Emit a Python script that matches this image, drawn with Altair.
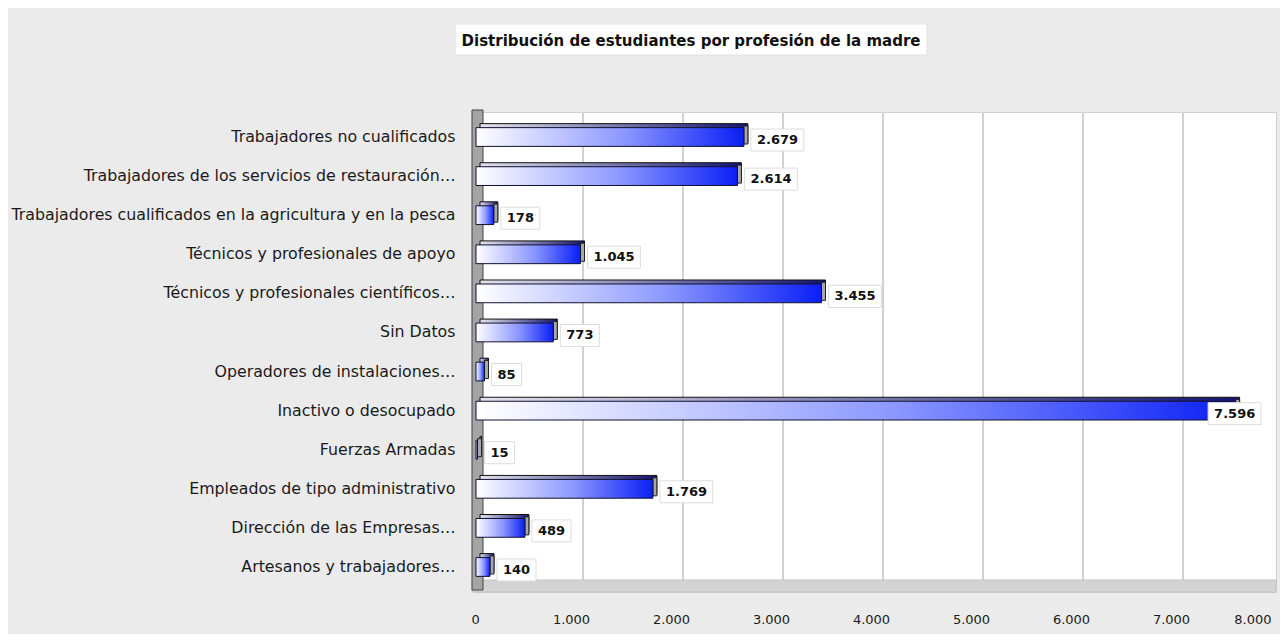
import altair as alt
import pandas as pd

categories = [
    "Trabajadores no cualificados",
    "Trabajadores de los servicios de restauración…",
    "Trabajadores cualificados en la agricultura y en la pesca",
    "Técnicos y profesionales de apoyo",
    "Técnicos y profesionales científicos…",
    "Sin Datos",
    "Operadores de instalaciones…",
    "Inactivo o desocupado",
    "Fuerzas Armadas",
    "Empleados de tipo administrativo",
    "Dirección de las Empresas…",
    "Artesanos y trabajadores…",
]
values = [2679, 2614, 178, 1045, 3455, 773, 85, 7596, 15, 1769, 489, 140]
x_ticks = [0, 1000, 2000, 3000, 4000, 5000, 6000, 7000, 8000]
grid_ticks = [1000, 2000, 3000, 4000, 5000, 6000, 7000]
title_text = "Distribución de estudiantes por profesión de la madre"

df = pd.DataFrame({"categoria": categories, "valor": values})
grid_df = pd.DataFrame({"t": grid_ticks})

W, H = 800, 480
FLOOR = 12
XMAX = 8000
PX = W / XMAX
LABEL_LIMIT = 7850
FONT = "DejaVu Sans"

x_scale = alt.Scale(domain=[0, XMAX], nice=False, zero=True)
x_axis = alt.Axis(
    values=x_ticks, title=None, ticks=False, domain=False, grid=False,
    labelExpr="replace(format(datum.value, ','), ',', '.')",
    labelFontSize=13, labelColor="#1a1a1a", labelPadding=21, labelFont=FONT,
    labelOffset=-5,
)
y_scale = alt.Scale(domain=categories, paddingInner=0.52, paddingOuter=0.4)
y_axis = alt.Axis(
    title=None, ticks=False, domain=False, labelFontSize=15.8, labelColor="#1a1a1a",
    labelPadding=21, labelLimit=1000, labelFont=FONT,
)
y_enc = alt.Y("categoria:N", scale=y_scale, axis=y_axis, sort=categories)

front_grad = alt.Gradient(
    gradient="linear",
    stops=[alt.GradientStop(color="#ffffff", offset=0),
           alt.GradientStop(color="#8c98ff", offset=0.55),
           alt.GradientStop(color="#0a1ff5", offset=1)],
    x1=0, x2=1, y1=0, y2=0,
)
back_grad = alt.Gradient(
    gradient="linear",
    stops=[alt.GradientStop(color="#e4e4ee", offset=0),
           alt.GradientStop(color="#141470", offset=1)],
    x1=0, x2=1, y1=0, y2=0,
)

base = alt.Chart(df).transform_calculate(
    label="replace(format(datum.valor, ','), ',', '.')"
).transform_calculate(
    ndots="length(datum.label) - length(replace(datum.label, '.', ''))"
).transform_calculate(
    boxw="(length(datum.label) - datum.ndots) * 9.0 + datum.ndots * 4.9 + 12"
).transform_calculate(
    x_lo0=f"datum.valor + 7 / {PX}",
    x_hi0=f"datum.valor + (7 + datum.boxw) / {PX}",
).transform_calculate(
    shift=f"max(0, datum.x_hi0 - {LABEL_LIMIT})"
).transform_calculate(
    x_lo="datum.x_lo0 - datum.shift",
    x_hi="datum.x_hi0 - datum.shift",
)

x_enc = alt.X("valor:Q", scale=x_scale, axis=x_axis)

grid = alt.Chart(grid_df).mark_rule(color="#d2d2d2", strokeWidth=2, xOffset=7).encode(
    x=alt.X("t:Q", scale=x_scale, axis=x_axis),
    y=alt.value(0), y2=alt.value(H - FLOOR),
)

one = alt.Data(values=[{"k": 1}])

wall = alt.Chart(one).mark_rect(fill="#a4a4a4", stroke="#444444", strokeWidth=1).encode(
    x=alt.value(-4), x2=alt.value(7), y=alt.value(-2), y2=alt.value(H - 2)
)
floor = alt.Chart(one).mark_rect(fill="#d4d4d4", stroke="#c2c2c2", strokeWidth=1).encode(
    x=alt.value(-4), x2=alt.value(W), y=alt.value(H - FLOOR), y2=alt.value(H)
)

back = base.mark_bar(
    fill=back_grad, stroke="#111111", strokeWidth=1,
    xOffset=4, x2Offset=4, yOffset=-4, y2Offset=-4,
).encode(x=x_enc, y=y_enc)

cap = base.mark_bar(
    fill="#a8a8a8", stroke="#222222", strokeWidth=1, size=18, yOffset=-2, y2Offset=-2,
    x2Offset=4,
).encode(x=x_enc, x2="valor:Q", y=y_enc)

front = base.mark_bar(
    fill=front_grad, stroke="#111133", strokeWidth=1,
).encode(x=x_enc, y=y_enc)

boxes = base.mark_bar(
    fill="white", stroke="#dddddd", strokeWidth=1, size=22, yOffset=3, y2Offset=3,
).encode(
    x=alt.X("x_lo:Q", scale=x_scale, axis=x_axis),
    x2="x_hi:Q",
    y=y_enc,
)

texts = base.mark_text(
    align="left", baseline="middle", dx=6, dy=3, fontSize=13, fontWeight="bold",
    font=FONT, color="#111111",
).encode(x=alt.X("x_lo:Q", scale=x_scale, axis=x_axis), y=y_enc, text="label:N")

title_box = alt.Chart(one).mark_rect(fill="white", stroke="#e2e2e2").encode(
    x=alt.value(-21), x2=alt.value(451), y=alt.value(-88), y2=alt.value(-57)
)
title = alt.Chart(one).mark_text(
    fontSize=15, fontWeight="bold", font=FONT, color="#111111",
    align="center", baseline="middle", text=title_text,
).encode(x=alt.value(215), y=alt.value(-71))

chart = alt.layer(
    grid, floor, wall, back, cap, front, boxes, texts, title_box, title
).properties(
    width=W, height=H,
    autosize=alt.AutoSizeParams(type="none"),
    padding={"left": 468, "top": 104, "right": 4, "bottom": 42},
    background="#ebebeb",
).configure_view(
    fill="white", stroke="#cfcfcf", strokeWidth=1
)

chart.save("out.html", embed_options={"renderer": "svg", "actions": False})
